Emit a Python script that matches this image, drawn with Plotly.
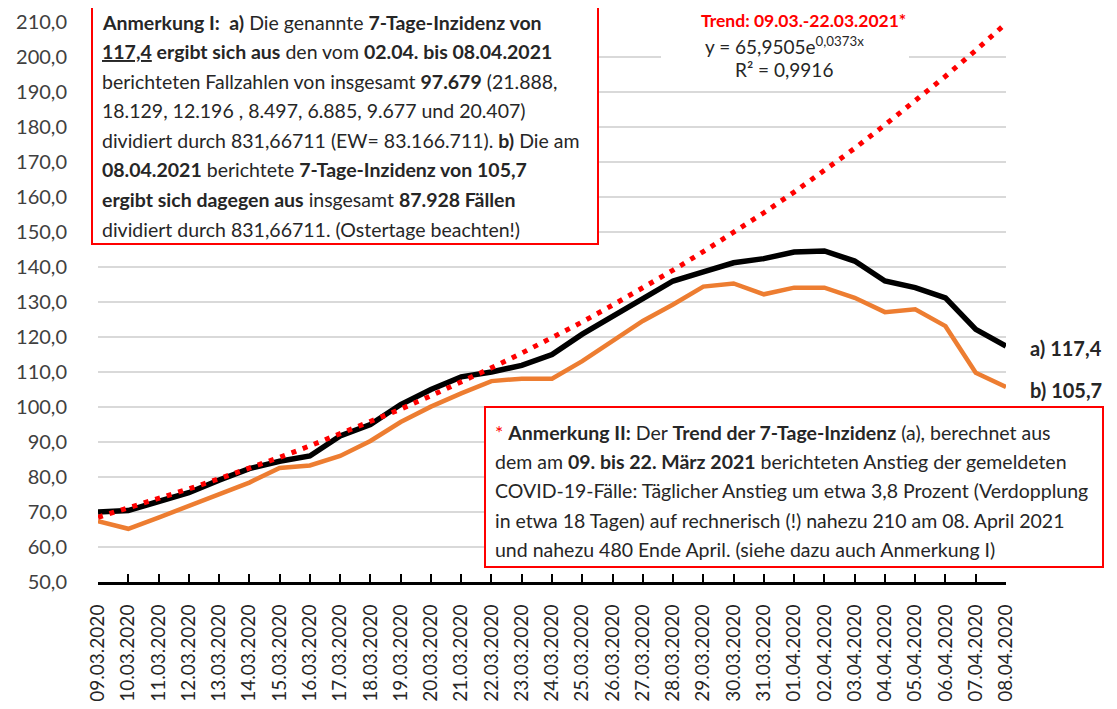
import plotly.graph_objects as go

# Kategorien (Beschriftung wie im Original)
dates = ["09.03.2020", "10.03.2020", "11.03.2020", "12.03.2020", "13.03.2020", "14.03.2020",
         "15.03.2020", "16.03.2020", "17.03.2020", "18.03.2020", "19.03.2020", "20.03.2020",
         "21.03.2020", "22.03.2020", "23.03.2020", "24.03.2020", "25.03.2020", "26.03.2020",
         "27.03.2020", "28.03.2020", "29.03.2020", "30.03.2020", "31.03.2020", "01.04.2020",
         "02.04.2020", "03.04.2020", "04.04.2020", "05.04.2020", "06.04.2020", "07.04.2020",
         "08.04.2020"]

# a) 7-Tage-Inzidenz (schwarz)
inz_a = [70.0, 70.4, 73.0, 75.5, 79.1, 82.4, 84.5, 86.0, 91.7, 95.0, 100.7, 105.0,
         108.6, 110.0, 111.9, 115.0, 120.8, 126.0, 131.2, 136.0, 138.6, 141.2, 142.4,
         144.3, 144.6, 141.7, 136.0, 134.1, 131.2, 122.2, 117.4]

# b) 7-Tage-Inzidenz (orange)
inz_b = [67.4, 65.2, 68.4, 71.7, 75.0, 78.4, 82.6, 83.3, 86.0, 90.3, 95.7, 100.1,
         103.9, 107.4, 108.1, 108.1, 113.1, 118.9, 124.6, 129.3, 134.4, 135.3, 132.2,
         134.1, 134.1, 131.2, 127.1, 127.9, 123.1, 109.8, 105.7]

# Trend (rot gepunktet)
trend = [68.5, 71.1, 73.8, 76.6, 79.5, 82.5, 85.6, 88.9, 92.3, 95.8, 99.4, 103.2,
         107.1, 111.2, 115.4, 119.8, 124.3, 129.1, 134.0, 139.1, 144.4, 149.8, 155.5,
         161.4, 167.6, 173.9, 180.6, 187.4, 194.5, 201.9, 209.6]

# Seite hat 8px Rand -> Figur etwas kleiner als das Fenster
W, H = 1101, 693
L, R, T, B = 90, 103, 14, 119
FONT = "Lato"
TXT = "#262626"


# Bildschirm-Pixel -> Papierkoordinaten
def px(x):
    return (x - 8 - L) / (W - L - R)


def py(y):
    return (H - B - (y - 8)) / (H - T - B)


def note(text, x, y, size, color=TXT, xanchor="left"):
    return dict(text=text, x=px(x), y=py(y), xref="paper", yref="paper",
                xanchor=xanchor, yanchor="middle", showarrow=False,
                font=dict(family=FONT, size=size, color=color))


fig = go.Figure()
fig.add_trace(go.Scatter(x=dates, y=inz_b, mode="lines", line=dict(color="#ED7D31", width=4.5)))
fig.add_trace(go.Scatter(x=dates, y=inz_a, mode="lines", line=dict(color="black", width=5.5)))
fig.add_trace(go.Scatter(x=dates, y=trend, mode="lines",
                         line=dict(color="#FF0000", width=5, dash="5px,7px")))

note1 = [
    "<b>Anmerkung I:  a)</b> Die genannte <b>7-Tage-Inzidenz von</b>",
    "<b><u>117,4</u> ergibt sich aus</b> den vom <b>02.04. bis 08.04.2021</b>",
    "berichteten Fallzahlen von insgesamt <b>97.679</b> (21.888,",
    "18.129, 12.196 , 8.497, 6.885, 9.677 und 20.407)",
    "dividiert durch 831,66711 (EW= 83.166.711). <b>b)</b> Die am",
    "<b>08.04.2021</b> berichtete <b>7-Tage-Inzidenz von 105,7</b>",
    "<b>ergibt sich dagegen aus</b> insgesamt <b>87.928 Fällen</b>",
    "dividiert durch 831,66711. (Ostertage beachten!)",
]
note2 = [
    "<span style='color:#FF0000'>*</span> <b>Anmerkung II:</b> Der <b>Trend der 7-Tage-Inzidenz</b> (a), berechnet aus",
    "dem am <b>09. bis 22. März 2021</b> berichteten Anstieg der gemeldeten",
    "COVID-19-Fälle: Täglicher Anstieg um etwa 3,8 Prozent (Verdopplung",
    "in etwa 18 Tagen) auf rechnerisch (!) nahezu 210 am 08. April 2021",
    "und nahezu 480 Ende April. (siehe dazu auch Anmerkung I)",
]

shapes = [
    dict(type="rect", xref="paper", yref="paper", x0=px(661), x1=px(909), y0=py(85), y1=py(4),
         fillcolor="white", line=dict(width=0), layer="above"),
    dict(type="rect", xref="paper", yref="paper", x0=px(92), x1=px(598), y0=py(244), y1=py(5),
         fillcolor="white", line=dict(color="#FF0000", width=2), layer="above"),
    dict(type="rect", xref="paper", yref="paper", x0=px(485), x1=px(1103), y0=py(567), y1=py(407),
         fillcolor="white", line=dict(color="#FF0000", width=2), layer="above"),
]

annotations = []
for i, t in enumerate(note1):
    annotations.append(note(t, 100, 22 + i * 29.6, 19.5))
for i, t in enumerate(note2):
    annotations.append(note(t, 493, 432 + i * 29.4, 19.5))

annotations += [
    note("<b>Trend: 09.03.-22.03.2021*</b>", 803, 20, 17.5, color="#FF0000", xanchor="center"),
    note("y = 65,9505e<sup>0,0373x</sup>", 784, 46, 19, xanchor="center"),
    note("R² = 0,9916", 784, 69, 19, xanchor="center"),
    note("<b>a) 117,4</b>", 1028, 348, 20),
    note("<b>b) 105,7</b>", 1028, 390, 20),
]

fig.update_layout(
    width=W, height=H,
    margin=dict(l=L, r=R, t=T, b=B, autoexpand=False),
    paper_bgcolor="white", plot_bgcolor="white",
    showlegend=False,
    separators=",.",
    shapes=shapes,
    annotations=annotations,
    font=dict(family=FONT, color="#404040"),
)
fig.update_xaxes(
    type="category", range=[0, 30], tickangle=-90, automargin=False,
    tickfont=dict(family=FONT, size=19, color=TXT),
    showgrid=False, showline=True, linecolor="black", linewidth=3,
    ticks="inside", ticklen=8, tickwidth=2, tickcolor="black", ticklabelstandoff=12,
)
fig.update_yaxes(
    range=[50, 210], dtick=10, tick0=50, tickformat=".1f", automargin=False,
    tickfont=dict(family=FONT, size=20, color="#404040"),
    showgrid=True, gridcolor="#D9D9D9", gridwidth=1.5,
    zeroline=False, showline=False, ticks="", ticklabelstandoff=30,
)

fig.write_html("out.html")
